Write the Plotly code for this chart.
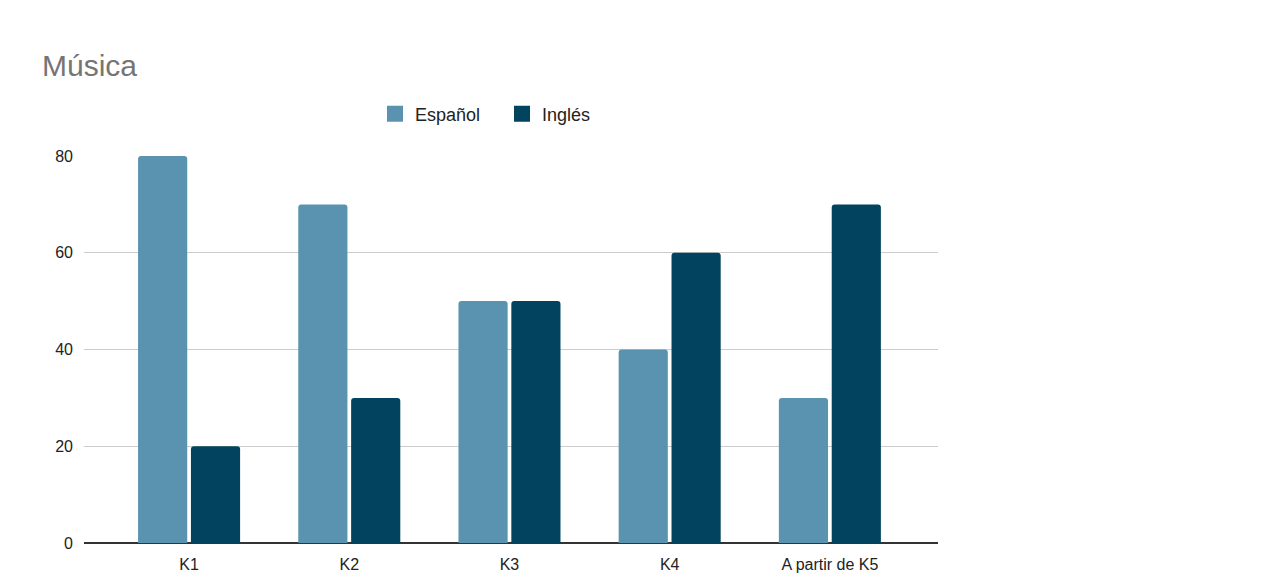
import plotly.graph_objects as go

# Data
categories = ["K1", "K2", "K3", "K4", "A partir de K5"]
espanol = [80, 70, 50, 40, 30]
ingles = [20, 30, 50, 60, 70]

colors = {"Español": "#5a93b0", "Inglés": "#02445f"}

fig = go.Figure()

fig.add_trace(go.Bar(
    x=categories, y=espanol, name="Español", showlegend=False,
    marker=dict(color=colors["Español"], line=dict(width=0)),
))
fig.add_trace(go.Bar(
    x=categories, y=ingles, name="Inglés", showlegend=False,
    marker=dict(color=colors["Inglés"], line=dict(width=0)),
))

# legend entries with bigger square swatches
for name, c in colors.items():
    fig.add_trace(go.Scatter(
        x=[None], y=[None], mode="markers", name=name,
        marker=dict(symbol="square", size=18, color=c),
    ))

# page body has an 8px margin, so the figure is drawn 8px smaller
W, H = 1248, 570

fig.update_layout(
    width=W, height=H,
    template="plotly_white",
    paper_bgcolor="white",
    plot_bgcolor="white",
    font=dict(family="Arial, Liberation Sans, sans-serif", size=16, color="#222222"),
    title=dict(
        text="Música", x=34 / W, xanchor="left", y=1 - 57 / H, yanchor="middle",
        font=dict(size=30, color="#757575"),
    ),
    barmode="group",
    bargap=0.34,
    bargroupgap=0.07,
    barcornerradius=3,
    margin=dict(l=76, r=318, t=148, b=35),
    showlegend=True,
    legend=dict(
        orientation="h", x=(494 - 76) / 854, xanchor="center",
        y=1 + (148 - 106) / 387, yanchor="middle",
        font=dict(size=18, color="#222222"),
        itemwidth=30,
        entrywidth=82,
        entrywidthmode="pixels",
    ),
    xaxis=dict(
        range=[-0.656, 4.675],
        showgrid=False,
        showline=False,
        ticks="",
        ticklabelstandoff=10,
        automargin=False,
        tickfont=dict(size=16, color="#222222"),
    ),
    yaxis=dict(
        range=[0, 80],
        tickvals=[0, 20, 40, 60, 80],
        gridcolor="#cccccc",
        gridwidth=1,
        zeroline=True,
        zerolinecolor="#333333",
        zerolinewidth=1.5,
        ticks="",
        ticklabelstandoff=10,
        automargin=False,
        tickfont=dict(size=16, color="#222222"),
    ),
)

fig.write_html("out.html")
